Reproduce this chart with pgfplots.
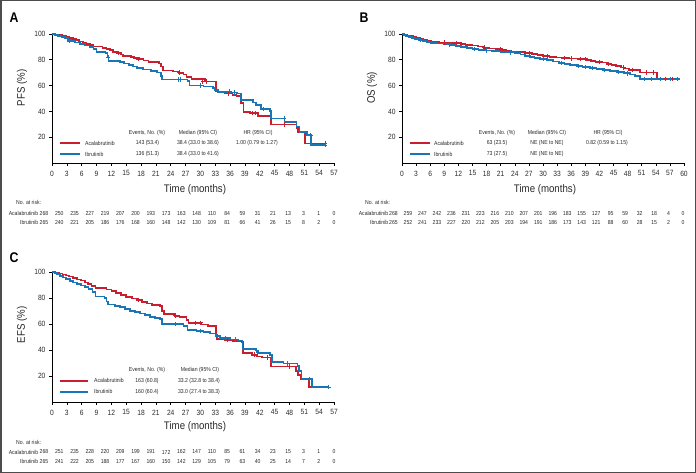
\documentclass[border=0pt]{standalone}
\usepackage{pgfplots}
\pgfplotsset{compat=1.18}
\usepackage{fontspec}
\setmainfont{Liberation Sans}[FakeStretch=0.88]
\definecolor{acred}{RGB}{200,30,45}
\definecolor{ibblue}{RGB}{24,118,182}
\definecolor{txt}{RGB}{40,40,40}

\pgfplotsset{
  kmaxis/.style={
    scale only axis, width=282pt, height=129pt,
    xmin=0, xmax=57, ymin=0, ymax=100,
    axis lines=left, axis line style={-, line width=0.8pt, black},
    xtick={0,3,...,57}, ytick={20,40,60,80,100},
    tick align=outside, major tick length=3pt,
    tick style={line width=0.6pt, black},
    tick label style={font=\fontsize{7.6}{8.5}\selectfont, text=txt},
    xticklabel style={yshift=-1.2pt},
    /pgf/number format/assume math mode=true,
    clip=false,
  },
  acal/.style={const plot, line width=1.7pt, draw=acred, mark=none},
  ibru/.style={const plot, line width=1.7pt, draw=ibblue, mark=none},
  cacal/.style={only marks, mark=+, mark size=2.2pt, mark options={draw=acred, line width=0.8pt}},
  cibru/.style={only marks, mark=+, mark size=2.2pt, mark options={draw=ibblue, line width=0.8pt}},
}

\newcommand{\sm}{\fontsize{5.8}{7}\selectfont}

\begin{document}
\begin{tikzpicture}
\useasboundingbox (0pt,0pt) rectangle (696pt,-473pt);

% ---------------- Panel A: PFS ----------------
\begin{axis}[kmaxis, at={(52pt,-163pt)}, anchor=south west]
\addplot[acal] coordinates {(0,100)(0.7,99.6)(1.3,99.2)(2,98.5)(2.8,97.8)(3.5,97)(4.2,96.2)(4.8,95.2)(5.5,94.3)(6.2,93.2)(7,92.3)(7.8,91.4)(8.4,90.2)(10.2,89.3)(11,88.3)(11.7,87.4)(12.4,86.3)(13.2,85.4)(13.9,84)(14.4,82.8)(16,82.1)(16.6,81.3)(17.6,80.5)(18.5,79.4)(19.5,78.5)(21.6,77.2)(22,74.8)(22.4,71.8)(24.5,70.9)(25.6,70)(26.6,68.5)(27.2,66.5)(28.2,65.2)(30.9,63.2)(33.1,55.5)(33.8,54.6)(35,53.8)(36.5,52.7)(37.3,51.8)(38.2,46.4)(38.7,39.8)(40,38.6)(41.6,36.2)(44.3,29.8)(49.4,27)(49.7,24.2)(51.2,15.2)(55.3,15.2)};
\addplot[ibru] coordinates {(0,100)(0.6,99.4)(1.2,98.6)(1.9,97.8)(2.6,96.8)(3.2,95.6)(3.8,94.6)(4.6,93.4)(5.6,92.4)(6.6,91.2)(7.6,90)(8.4,88.2)(9,86.2)(10.8,85)(11.2,82.2)(11.4,79)(13.8,78.2)(14.6,77.2)(15.6,76.2)(16.4,74.8)(17.2,73.8)(18.4,72.4)(20,71.4)(21.2,70.2)(22,67.6)(22.2,64.8)(27.4,63.4)(27.8,60)(30.6,59.2)(32.6,58.3)(33,56.4)(33.5,55.3)(36.2,54.6)(37.4,53.8)(38.2,48.8)(40.6,46.8)(41.3,45)(42.2,41.8)(44,40.5)(44.3,34.6)(47,32)(49.4,28.2)(50,24)(51.6,21.6)(52.4,14)(55.3,14)};
\addplot[cacal] coordinates {(13.5,85.4)(17.5,80.5)(25.8,70)(30.5,63.2)(31.2,63.2)(35.6,53.8)(40.5,38.6)(41.2,38.6)(47,29.8)(55.2,15.2)};
\addplot[cibru] coordinates {(3.5,94.6)(11.3,82.2)(25.5,64.8)(26,64.8)(30,60)(35.8,55.3)(36.8,54.6)(42.8,41.8)(46.9,34.6)(52.3,21.6)(55.2,14)};
\end{axis}

% ---------------- Panel B: OS ----------------
\begin{axis}[kmaxis, xmax=60, xtick={0,3,...,60}, at={(402pt,-163pt)}, anchor=south west]
\addplot[acal] coordinates {(0,100)(0.5,99.4)(1,98.9)(1.6,98.3)(2.3,97.8)(3,97.2)(3.8,96.5)(4.6,95.8)(5.4,95)(6.2,94.3)(7,93.9)(8,93.5)(9.5,93.1)(11,92.8)(12.5,92.4)(13.5,91.6)(15,91)(16.2,90.3)(17.5,89.4)(18.5,88.8)(20,88.3)(21.3,87.6)(22.2,86.8)(23.3,86.2)(24.6,85.8)(26.2,85.2)(27.6,84.6)(28.8,83.8)(30,83)(31.4,82.4)(32.8,81.8)(34,81.3)(35.5,80.9)(37.5,80.6)(39.4,80)(40.2,79.2)(41.2,78.5)(42.6,77.8)(43.6,76.8)(44.6,76)(45.6,75)(46.6,74)(47.4,73.2)(48.3,72.2)(50.6,70.2)(54.2,65.2)(58.8,65.2)};
\addplot[ibru] coordinates {(0,100)(0.4,99.3)(0.9,98.6)(1.5,97.8)(2.1,97)(2.8,96.2)(3.6,95.3)(4.4,94.5)(5.3,93.7)(6.2,93.1)(7.5,92.6)(9,92)(10.2,91.4)(11.5,90.8)(12.5,90)(13.8,89.2)(15,88.6)(16.3,87.8)(17.6,87.2)(19.2,86.7)(21,86.2)(22.6,85.8)(24,85.2)(25.2,84.2)(26.2,83.2)(27.2,82.2)(28.2,81.4)(29.4,80.5)(30.8,79.6)(32.2,78.6)(33.4,77.6)(34.6,76.8)(35.8,75.8)(37.2,75)(38.4,74.2)(40,73.6)(41.4,72.8)(42.8,72)(44.3,71.2)(45.8,70.4)(47.2,69.5)(48.5,68.6)(49.6,67.4)(50.6,65)(59.1,65)};
\addplot[cacal] coordinates {(9,93.5)(11.5,92.8)(17.5,89.4)(21,88.3)(27,85.2)(31,83)(34.5,81.3)(36,80.9)(38,80.6)(39,80.6)(42,78.5)(44,76.8)(47,74)(49,72.2)(52,70.2)(53.5,70.2)(56,65.2)(57.5,65.2)};
\addplot[cibru] coordinates {(4,95.3)(10,92)(15.5,88.6)(18,87.2)(23,85.8)(30,80.5)(34,77.6)(37.5,75)(39,74.2)(40.5,73.6)(43,72)(46,70.4)(48,69.5)(51.5,65)(53,65)(55,65)(57,65)(58.5,65)};
\end{axis}

% ---------------- Panel C: EFS ----------------
\begin{axis}[kmaxis, height=130pt, at={(52pt,-402pt)}, anchor=south west]
\addplot[acal] coordinates {(0,100)(0.7,99.4)(1.4,98.8)(2.1,98.1)(2.8,97.4)(3.5,96.5)(4.3,95.4)(5,94.3)(5.8,93.4)(6.6,92)(7.3,90.7)(8,89.4)(8.8,87.7)(11,86.6)(12,85.2)(13,84)(14,82.5)(15,80.6)(16.2,79.6)(17.2,78.4)(18.2,76.8)(19.2,75.8)(20.2,74.8)(21.8,73.6)(22.3,70)(22.6,67.8)(24.8,66.4)(25.8,65.2)(27.2,63)(27.6,61)(30.2,59.6)(31.5,58.5)(33.1,52)(33.3,48.6)(35,47.6)(36.5,46.8)(38.3,46)(38.6,37.8)(40.4,36.4)(41.5,35)(42.5,34.2)(44.3,27.4)(49.3,24)(49.7,20.8)(50.2,17.5)(51.9,11.4)(55.9,11.4)};
\addplot[ibru] coordinates {(0,100)(0.5,99.2)(1,98.2)(1.6,97)(2.2,95.8)(2.9,94.6)(3.6,93.2)(4.3,92)(5,91)(5.8,89.6)(6.6,88.2)(7.4,86.8)(8.2,84.6)(8.8,81.2)(10.6,80.2)(11,77.4)(11.3,75)(12.8,74)(13.8,73)(14.8,71.4)(15.8,70.2)(16.8,69)(17.8,68)(18.8,67)(19.8,65.6)(20.8,64.6)(21.8,63.6)(22.2,59.8)(26.6,58.6)(27.4,55.6)(29.2,54.6)(30.6,53.6)(32,52.6)(33.2,51)(34,49)(36,48)(37.6,47.4)(38.5,40.6)(41.2,39.6)(41.6,37.6)(44,36.4)(44.4,31)(46.8,29.6)(49.6,27.8)(49.9,23.6)(50.4,17.6)(52.5,11.6)(55.9,11.6)};
\addplot[cacal] coordinates {(17.5,78.4)(25,66.4)(29,61)(30,61)(35.5,47.6)(41,36.4)(43.5,34.2)(48,27.4)(55.9,11.4)};
\addplot[cibru] coordinates {(25,59.8)(30,54.6)(33.5,51)(35,49)(37,48)(41.4,39.6)(47.5,29.6)(52,17.6)(55.9,11.6)};
\end{axis}

\begin{scope}[x=1pt, y=-1pt, every node/.style={text=txt, inner sep=0pt}]
% frame
\draw[line width=1.5pt, black!70] (0.75,0.75) rectangle (695.25,472.25);
% panel letters
\node[font=\fontsize{14}{16}\selectfont\bfseries, text=black] at (14,18) {A};
\node[font=\fontsize{14}{16}\selectfont\bfseries, text=black] at (364,18) {B};
\node[font=\fontsize{14}{16}\selectfont\bfseries, text=black] at (14,258) {C};
% y labels
\node[rotate=90, font=\fontsize{11}{12}\selectfont] at (22,88) {PFS (\%)};
\node[rotate=90, font=\fontsize{11}{12}\selectfont] at (372,88) {OS (\%)};
\node[rotate=90, font=\fontsize{11}{12}\selectfont] at (22,325) {EFS (\%)};
% x labels
\node[font=\fontsize{11}{12}\selectfont] at (195,190) {Time (months)};
\node[font=\fontsize{11}{12}\selectfont] at (545,190) {Time (months)};
\node[font=\fontsize{11}{12}\selectfont] at (195,427) {Time (months)};

% legend A
\node[font=\sm] at (147,133) {Events, No. (\%)};
\node[font=\sm] at (198,133) {Median (95\% CI)};
\node[font=\sm] at (258,133) {HR (95\% CI)};
\draw[draw=acred, line width=1.7pt] (60,143.3) -- (80,143.3);
\draw[draw=ibblue, line width=1.7pt] (60,154) -- (80,154);
\node[font=\sm, anchor=west] at (85,143.3) {Acalabrutinib};
\node[font=\sm, anchor=west] at (85,154) {Ibrutinib};
\node[font=\sm] at (147.5,143.3) {143 (53.4)};
\node[font=\sm] at (147.5,154) {136 (51.3)};
\node[font=\sm] at (198,143.3) {38.4 (33.0 to 38.6)};
\node[font=\sm] at (198,154) {38.4 (33.0 to 41.6)};
\node[font=\sm] at (257,143.3) {1.00 (0.79 to 1.27)};

% legend B
\node[font=\sm] at (497,133) {Events, No. (\%)};
\node[font=\sm] at (547,133) {Median (95\% CI)};
\node[font=\sm] at (608,133) {HR (95\% CI)};
\draw[draw=acred, line width=1.7pt] (410,143.3) -- (430,143.3);
\draw[draw=ibblue, line width=1.7pt] (410,154) -- (430,154);
\node[font=\sm, anchor=west] at (434,143.3) {Acalabrutinib};
\node[font=\sm, anchor=west] at (434,154) {Ibrutinib};
\node[font=\sm] at (497,143.3) {63 (23.5)};
\node[font=\sm] at (497,154) {73 (27.5)};
\node[font=\sm] at (547,143.3) {NE (NE to NE)};
\node[font=\sm] at (547,154) {NE (NE to NE)};
\node[font=\sm] at (607,143.3) {0.82 (0.59 to 1.15)};

% legend C
\node[font=\sm] at (147,370) {Events, No. (\%)};
\node[font=\sm] at (200,370) {Median (95\% CI)};
\draw[draw=acred, line width=1.7pt] (60,380.7) -- (88,380.7);
\draw[draw=ibblue, line width=1.7pt] (60,391.7) -- (88,391.7);
\node[font=\sm, anchor=west] at (94,380.7) {Acalabrutinib};
\node[font=\sm, anchor=west] at (94,391.7) {Ibrutinib};
\node[font=\sm] at (147,380.7) {163 (60.8)};
\node[font=\sm] at (147,391.7) {160 (60.4)};
\node[font=\sm] at (199,380.7) {33.2 (32.8 to 38.4)};
\node[font=\sm] at (199,391.7) {33.0 (27.4 to 38.3)};

% at-risk A
\node[font=\sm, anchor=west] at (16,202.7) {No. at risk:};
\node[font=\sm, anchor=east] at (38.5,213.3) {Acalabrutinib};
\node[font=\sm, anchor=east] at (38.5,222.7) {Ibrutinib};
\foreach \v [count=\i from 0] in {268,250,235,227,219,207,200,193,173,163,148,110,84,59,31,21,13,3,1,0}
  \node[font=\sm] at ({44+\i*15.26},213.3) {\v};
\foreach \v [count=\i from 0] in {265,240,221,205,186,176,168,160,148,142,130,109,81,66,41,26,15,8,2,0}
  \node[font=\sm] at ({44+\i*15.26},222.7) {\v};

% at-risk B
\node[font=\sm, anchor=west] at (365,202.7) {No. at risk:};
\node[font=\sm, anchor=east] at (388.5,213.3) {Acalabrutinib};
\node[font=\sm, anchor=east] at (388.5,222.7) {Ibrutinib};
\foreach \v [count=\i from 0] in {268,259,247,242,236,231,223,216,210,207,201,196,183,155,127,95,59,32,18,4,0}
  \node[font=\sm] at ({393.5+\i*14.48},213.3) {\v};
\foreach \v [count=\i from 0] in {265,252,241,233,227,220,212,205,203,194,191,186,173,143,121,88,60,28,15,2,0}
  \node[font=\sm] at ({393.5+\i*14.48},222.7) {\v};

% at-risk C
\node[font=\sm, anchor=west] at (16,442) {No. at risk:};
\node[font=\sm, anchor=east] at (38.5,452) {Acalabrutinib};
\node[font=\sm, anchor=east] at (38.5,461.5) {Ibrutinib};
\foreach \v [count=\i from 0] in {268,251,235,228,220,209,199,191,172,162,147,110,85,61,34,23,15,3,1,0}
  \node[font=\sm] at ({44+\i*15.26},452) {\v};
\foreach \v [count=\i from 0] in {265,241,222,205,188,177,167,160,150,142,129,105,79,63,40,25,14,7,2,0}
  \node[font=\sm] at ({44+\i*15.26},461.5) {\v};
\end{scope}
\end{tikzpicture}
\end{document}
